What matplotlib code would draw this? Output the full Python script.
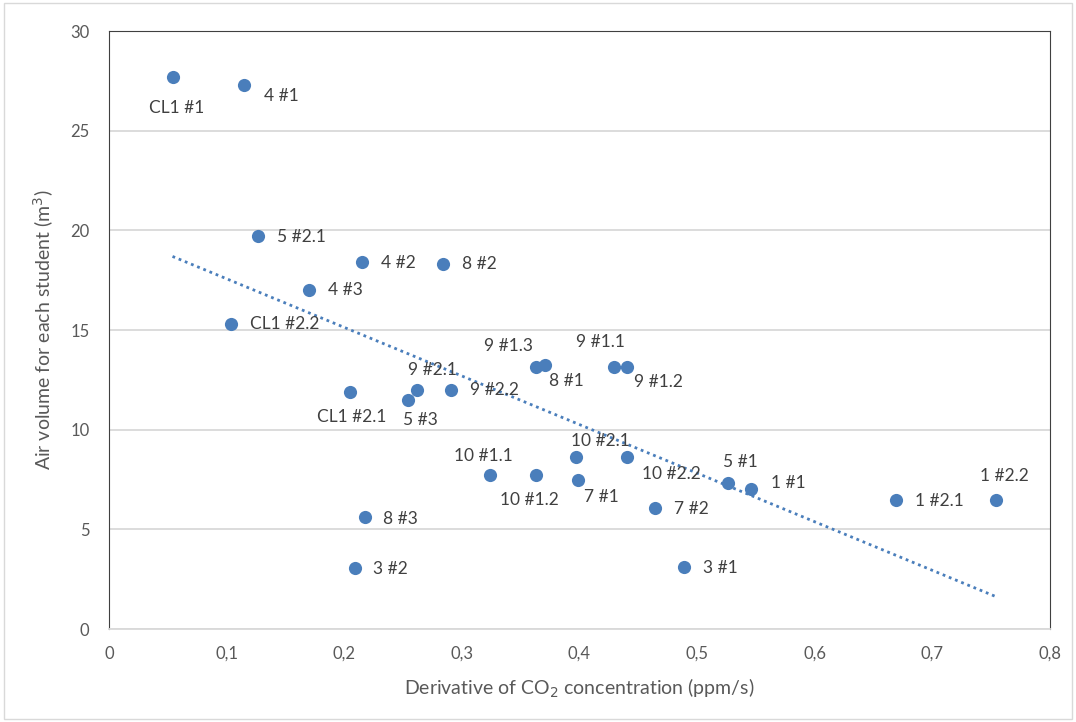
import numpy as np
import matplotlib
matplotlib.use("Agg")
import matplotlib.pyplot as plt
from matplotlib.patches import Rectangle

plt.rcParams['font.family'] = ['Lato', 'DejaVu Sans']

# Datos

names = ["CL1 #1", "4 #1", "5 #2.1", "4 #2", "8 #2", "4 #3", "CL1 #2.2",
         "CL1 #2.1", "9 #2.1", "5 #3", "9 #2.2", "9 #1.3", "8 #1", "9 #1.1",
         "9 #1.2", "10 #1.1", "10 #1.2", "10 #2.1", "10 #2.2", "7 #1", "7 #2",
         "8 #3", "3 #2", "3 #1", "5 #1", "1 #1", "1 #2.1", "1 #2.2"]
deriv = [0.054, 0.115, 0.127, 0.215, 0.284, 0.170, 0.104,
         0.205, 0.262, 0.254, 0.291, 0.363, 0.371, 0.429,
         0.440, 0.324, 0.363, 0.397, 0.440, 0.399, 0.464,
         0.218, 0.209, 0.489, 0.526, 0.546, 0.669, 0.754]
volume = [27.7, 27.3, 19.7, 18.4, 18.3, 17.0, 15.3,
          11.9, 12.0, 11.5, 12.0, 13.15, 13.25, 13.15,
          13.15, 7.73, 7.73, 8.63, 8.63, 7.48, 6.07,
          5.6, 3.06, 3.1, 7.33, 7.02, 6.45, 6.45]

# Posicion de etiquetas (pixeles: dx, dy hacia abajo, alineacion)
lab = {"CL1 #1": (4, 31, "center"), "4 #1": (20, 11, "left"),
       "5 #2.1": (19, 1, "left"), "4 #2": (19, 1, "left"),
       "8 #2": (19, 0, "left"), "4 #3": (19, 0, "left"),
       "CL1 #2.2": (19, 0, "left"), "CL1 #2.1": (2, 25, "center"),
       "9 #2.1": (15, -20, "center"), "5 #3": (13, 20, "center"),
       "9 #2.2": (19, 0, "left"), "9 #1.3": (-27, -21, "center"),
       "8 #1": (21, 16, "center"), "9 #1.1": (-13, -25, "center"),
       "9 #1.2": (7, 15, "left"), "10 #1.1": (-7, -19, "center"),
       "10 #1.2": (-7, 25, "center"), "10 #2.1": (24, -16, "center"),
       "10 #2.2": (45, 17, "center"), "7 #1": (23, 17, "center"),
       "7 #2": (19, 1, "left"), "8 #3": (18, 2, "left"),
       "3 #2": (18, 1, "left"), "3 #1": (19, 1, "left"),
       "5 #1": (13, -21, "center"), "1 #1": (20, -6, "left"),
       "1 #2.1": (19, 1, "left"), "1 #2.2": (9, -24, "center")}

blue = "#4a7ebb"
txt = "#404040"

fig = plt.figure(figsize=(10.76, 7.22), dpi=100)
ax = fig.add_axes([0.1013, 0.1288, 0.8745, 0.8282])

ax.scatter(deriv, volume, s=90, color=blue, zorder=3, linewidths=0)

# Linea de tendencia
m, b = np.polyfit(deriv, volume, 1)
xt = np.array([min(deriv), max(deriv)])
ax.plot(xt, m * xt + b, color=blue, lw=2, ls=(0, (1, 1.4)), zorder=2)

for n, xv, yv in zip(names, deriv, volume):
    dx, dy, ha = lab[n]
    ax.annotate(n, (xv, yv), xytext=(dx * 0.72, -dy * 0.72),
                textcoords="offset points", ha=ha, va="center",
                fontsize=12.5, color=txt, zorder=4)

ax.set_xlim(0, 0.8)
ax.set_ylim(0, 30)
ax.set_xticks(np.arange(0, 0.81, 0.1))
ax.set_xticklabels(["0", "0,1", "0,2", "0,3", "0,4", "0,5", "0,6", "0,7", "0,8"])
ax.set_yticks(range(0, 31, 5))
ax.yaxis.grid(True, color="#d9d9d9", lw=1.3)
ax.set_axisbelow(True)
ax.tick_params(length=0, labelsize=12, colors="#595959", pad=12)
ax.tick_params(axis="y", pad=14)
for s in ["left", "top", "right"]:
    ax.spines[s].set_color("#404040")
    ax.spines[s].set_linewidth(0.8)
ax.spines["bottom"].set_color("#d9d9d9")
ax.spines["bottom"].set_linewidth(1.3)

ax.set_xlabel("Derivative of CO$_2$ concentration (ppm/s)", fontsize=14,
              color="#595959", labelpad=11)
ax.set_ylabel("Air volume for each student (m$^3$)", fontsize=14,
              color="#595959", labelpad=10)

fig.patches.append(Rectangle((0.004, 0.004), 0.992, 0.992, transform=fig.transFigure,
                             fill=False, edgecolor="#d9d9d9", lw=1))

fig.savefig("out.png", dpi=100)
plt.close()
